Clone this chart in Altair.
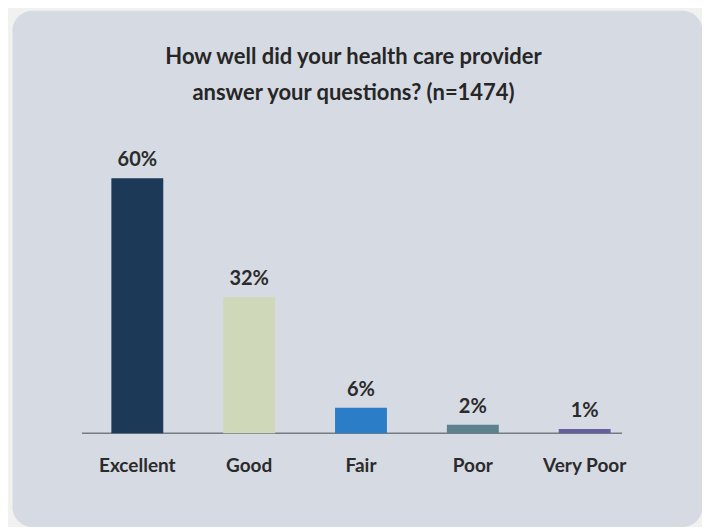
import altair as alt
import pandas as pd

title_lines = ["How well did your health care provider", "answer your questions? (n=1474)"]
categories = ["Excellent", "Good", "Fair", "Poor", "Very Poor"]
values = [60, 32, 6, 2, 1]
value_labels = ["60%", "32%", "6%", "2%", "1%"]
bar_colors = ["#1c3a58", "#cfd8b8", "#2a7dc6", "#5b828d", "#66609e"]

df = pd.DataFrame({"category": categories, "value": values, "label": value_labels})

x_enc = alt.X("category:N", sort=categories, axis=None,
              scale=alt.Scale(range=[69.5, 629.5], paddingInner=0.536, paddingOuter=0.268))
y_scale = alt.Scale(domain=[0, 60], range=[423.5, 168], nice=False, zero=True)

label_font = "Lato"

base = alt.Chart(df)

baseline = base.mark_rule(color="#767c84", strokeWidth=1.5).encode(
    y=alt.Y(datum=0, scale=y_scale, axis=None),
    x=alt.value(70), x2=alt.value(611)
).transform_filter(alt.datum.category == "Excellent")

bars = base.mark_bar().encode(
    x=x_enc,
    y=alt.Y("value:Q", scale=y_scale, axis=None),
    color=alt.Color("category:N", scale=alt.Scale(domain=categories, range=bar_colors), legend=None),
)

value_text = base.mark_text(font=label_font, fontWeight="bold", fontSize=20, color="#2b2b2b",
                            baseline="alphabetic", dy=-12).encode(
    x=x_enc,
    y=alt.Y("value:Q", scale=y_scale, axis=None),
    text="label:N",
)

cat_text = base.mark_text(font=label_font, fontWeight="bold", fontSize=19, color="#2b2b2b",
                          baseline="alphabetic", dy=38.5).encode(
    x=x_enc,
    y=alt.Y(datum=0, scale=y_scale, axis=None),
    text="category:N",
)

title_text = base.mark_text(font="Lato", fontWeight="bold", fontSize=22, color="#262626",
                            baseline="alphabetic", align="center", lineHeight=36).encode(
    x=alt.value(342), y=alt.value(54), text=alt.value(title_lines)
).transform_filter(alt.datum.category == "Excellent")

chart = alt.layer(baseline, bars, value_text, cat_text, title_text).properties(
    width=691, height=517,
    padding={"left": 4, "top": 2, "right": 0, "bottom": 0},
    background="#f1f1f0",
).configure_view(
    fill="#d6dae3", stroke="transparent", cornerRadius=20
)

chart.save("out.html", embed_options={"renderer": "svg", "actions": False})
